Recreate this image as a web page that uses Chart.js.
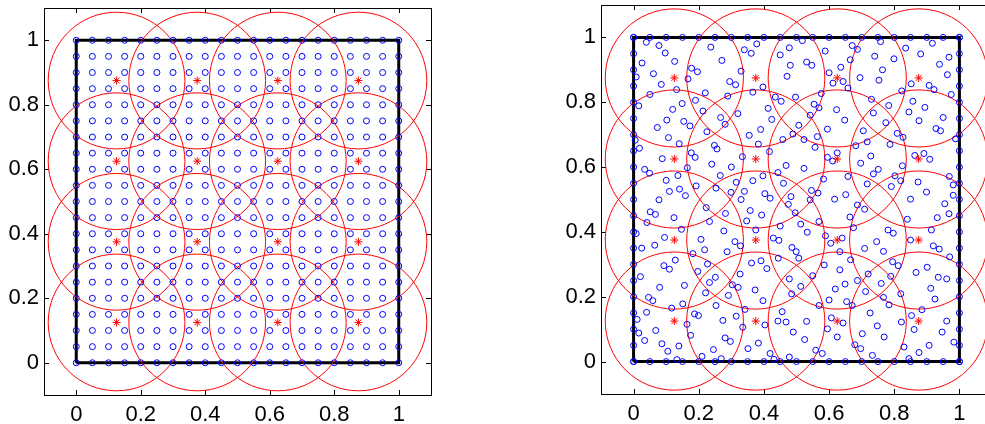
<!DOCTYPE html>
<html>
<head>
<meta charset="utf-8">
<script src="https://cdn.jsdelivr.net/npm/chart.js@4.4.1/dist/chart.umd.min.js"></script>
<style>
  html, body { margin: 0; padding: 0; background: #fff; overflow: hidden; }
  #wrap { position: relative; width: 985px; height: 424px; overflow: hidden; }
  .panel { position: absolute; top: 0; }
</style>
</head>
<body>
<div id="wrap">
  <canvas id="left" class="panel" width="440" height="424" style="left:0"></canvas>
  <canvas id="right" class="panel" width="443" height="424" style="left:557px"></canvas>
</div>
<script>
// axis ticks shown on both panels
const tickValues = [0, 0.2, 0.4, 0.6, 0.8, 1];

// node positions along one side of the unit square (both panels)
const gridValues = [0, 0.05, 0.1, 0.15, 0.2, 0.25, 0.3, 0.35, 0.4, 0.45, 0.5,
  0.55, 0.6, 0.65, 0.7, 0.75, 0.8, 0.85, 0.9, 0.95, 1];

// centres of the red covering circles (asterisks)
const centerValues = [0.125, 0.375, 0.625, 0.875];
const coverRadius = 0.212;

// right panel: scattered interior nodes
const scatteredNodes = [
  [0.039,0.985],[0.078,0.975],[0.097,0.952],[0.026,0.921],[0.126,0.926],[0.237,0.970],[0.340,0.962],[0.361,0.951],
  [0.378,0.980],[0.478,0.968],[0.450,0.946],[0.271,0.929],[0.178,0.905],[0.196,0.894],[0.330,0.896],[0.481,0.914],
  [0.471,0.880],[0.061,0.888],[0.008,0.878],[0.085,0.855],[0.132,0.839],[0.167,0.872],[0.295,0.864],[0.313,0.854],
  [0.366,0.831],[0.397,0.847],[0.050,0.824],[0.220,0.829],[0.289,0.819],[0.435,0.816],[0.453,0.803],[0.497,0.816],
  [0.016,0.789],[0.190,0.806],[0.149,0.796],[0.120,0.778],[0.213,0.773],[0.320,0.765],[0.413,0.781],[0.102,0.745],
  [0.154,0.741],[0.173,0.727],[0.267,0.753],[0.281,0.732],[0.424,0.747],[0.073,0.722],[0.225,0.709],[0.390,0.716],
  [0.355,0.698],[0.458,0.685],[0.489,0.702],[0.107,0.691],[0.140,0.672],[0.005,0.683],[0.018,0.658],[0.248,0.667],
  [0.256,0.656],[0.383,0.671],[0.088,0.626],[0.177,0.644],[0.189,0.630],[0.334,0.632],[0.417,0.648],[0.165,0.598],
  [0.240,0.609],[0.300,0.600],[0.468,0.605],[0.034,0.593],[0.049,0.581],[0.136,0.574],[0.100,0.559],[0.192,0.542],
  [0.266,0.574],[0.315,0.553],[0.366,0.558],[0.397,0.573],[0.443,0.583],[0.460,0.550],[0.110,0.525],[0.141,0.532],
  [0.159,0.512],[0.078,0.499],[0.253,0.535],[0.299,0.522],[0.340,0.525],[0.403,0.518],[0.419,0.504],[0.483,0.509],
  [0.518,0.990],[0.588,0.958],[0.531,0.924],[0.547,0.914],[0.600,0.891],[0.636,0.908],[0.612,0.859],[0.643,0.864],
  [0.658,0.844],[0.671,0.975],[0.687,0.963],[0.665,0.931],[0.758,0.987],[0.740,0.942],[0.764,0.900],[0.753,0.868],
  [0.695,0.876],[0.799,0.934],[0.835,0.967],[0.881,0.949],[0.917,0.982],[0.939,0.917],[0.968,0.939],[0.963,0.885],
  [0.852,0.857],[0.907,0.852],[0.922,0.839],[0.823,0.835],[0.975,0.824],[0.576,0.827],[0.554,0.794],[0.569,0.783],
  [0.623,0.777],[0.542,0.760],[0.648,0.745],[0.507,0.729],[0.595,0.717],[0.523,0.685],[0.564,0.694],[0.557,0.661],
  [0.730,0.809],[0.783,0.790],[0.736,0.767],[0.857,0.803],[0.894,0.784],[0.845,0.770],[0.876,0.743],[0.950,0.753],
  [0.774,0.737],[0.705,0.712],[0.717,0.678],[0.809,0.704],[0.827,0.692],[0.787,0.670],[0.682,0.666],[0.928,0.719],
  [0.942,0.712],[0.988,0.687],[0.625,0.644],[0.595,0.630],[0.611,0.619],[0.728,0.634],[0.697,0.612],[0.863,0.636],
  [0.891,0.642],[0.909,0.624],[0.825,0.604],[0.751,0.593],[0.736,0.579],[0.523,0.596],[0.583,0.563],[0.658,0.571],
  [0.717,0.548],[0.802,0.573],[0.820,0.558],[0.873,0.554],[0.791,0.540],[0.969,0.571],[0.981,0.545],[0.546,0.528],
  [0.566,0.520],[0.651,0.515],[0.617,0.501],[0.542,0.499],[0.899,0.523],[0.850,0.501],[0.981,0.513],
  [0.330,0.500],[0.475,0.485],[0.051,0.462],[0.067,0.454],[0.041,0.429],[0.124,0.444],[0.223,0.475],[0.233,0.432],
  [0.282,0.457],[0.358,0.466],[0.393,0.452],[0.347,0.434],[0.375,0.406],[0.450,0.418],[0.496,0.459],[0.277,0.403],
  [0.147,0.408],[0.095,0.383],[0.065,0.359],[0.025,0.350],[0.008,0.395],[0.207,0.377],[0.218,0.345],[0.182,0.333],
  [0.311,0.370],[0.328,0.357],[0.287,0.339],[0.429,0.381],[0.446,0.374],[0.486,0.352],[0.499,0.339],[0.444,0.319],
  [0.362,0.304],[0.391,0.311],[0.409,0.287],[0.128,0.313],[0.093,0.296],[0.110,0.285],[0.227,0.301],[0.197,0.278],
  [0.251,0.260],[0.233,0.244],[0.327,0.270],[0.021,0.262],[0.080,0.229],[0.156,0.235],[0.303,0.237],[0.321,0.229],
  [0.373,0.221],[0.478,0.255],[0.485,0.209],[0.291,0.204],[0.221,0.212],[0.046,0.198],[0.059,0.188],[0.151,0.178],
  [0.117,0.165],[0.253,0.173],[0.397,0.188],[0.342,0.161],[0.040,0.152],[0.011,0.130],[0.187,0.147],[0.199,0.142],
  [0.315,0.140],[0.274,0.127],[0.164,0.115],[0.456,0.154],[0.443,0.125],[0.403,0.113],[0.335,0.106],[0.468,0.122],
  [0.016,0.088],[0.034,0.065],[0.068,0.096],[0.175,0.081],[0.490,0.091],[0.281,0.073],[0.297,0.062],[0.383,0.057],
  [0.087,0.055],[0.105,0.032],[0.139,0.048],[0.245,0.037],[0.210,0.016],[0.351,0.040],[0.419,0.025],[0.431,0.007],
  [0.133,0.006],[0.269,0.009],[0.478,0.014],
  [0.687,0.483],[0.955,0.487],[0.709,0.470],[0.968,0.456],[0.932,0.444],[0.840,0.439],[0.569,0.432],[0.664,0.446],
  [0.675,0.413],[0.513,0.424],[0.533,0.399],[0.781,0.406],[0.797,0.396],[0.589,0.388],[0.605,0.365],[0.640,0.381],
  [0.746,0.370],[0.709,0.349],[0.767,0.340],[0.850,0.375],[0.914,0.406],[0.920,0.357],[0.938,0.347],[0.970,0.323],
  [0.507,0.319],[0.633,0.339],[0.666,0.314],[0.585,0.298],[0.633,0.283],[0.550,0.265],[0.795,0.308],[0.812,0.296],
  [0.867,0.275],[0.901,0.291],[0.935,0.260],[0.961,0.255],[0.513,0.232],[0.619,0.224],[0.649,0.239],[0.687,0.250],
  [0.720,0.270],[0.760,0.241],[0.789,0.263],[0.712,0.216],[0.767,0.198],[0.820,0.209],[0.912,0.226],[0.925,0.193],
  [0.600,0.190],[0.654,0.185],[0.671,0.173],[0.784,0.175],[0.569,0.173],[0.726,0.150],[0.853,0.142],[0.885,0.160],
  [0.607,0.135],[0.643,0.119],[0.595,0.101],[0.531,0.124],[0.748,0.110],[0.822,0.122],[0.861,0.099],[0.961,0.125],
  [0.947,0.091],[0.525,0.068],[0.625,0.076],[0.702,0.086],[0.769,0.076],[0.679,0.052],[0.697,0.040],[0.830,0.045],
  [0.907,0.050],[0.983,0.060],[0.559,0.035],[0.579,0.025],[0.733,0.019],[0.876,0.028],[0.845,0.009]
];

// the unit square outline
const squareX = [0, 1, 1, 0, 0];
const squareY = [0, 0, 1, 1, 0];

// ---- build the point tables ----
const uniformNodes = [];
gridValues.forEach((gx) => gridValues.forEach((gy) => uniformNodes.push({ x: gx, y: gy })));

const edgeNodes = [];
gridValues.forEach((v) => {
  edgeNodes.push({ x: v, y: 0 }, { x: v, y: 1 }, { x: 0, y: v }, { x: 1, y: v });
});
const randomNodes = edgeNodes.concat(scatteredNodes.map(([x, y]) => ({ x, y })));

const centers = [];
centerValues.forEach((cx) => centerValues.forEach((cy) => centers.push({ x: cx, y: cy })));

const square = squareX.map((x, i) => ({ x, y: squareY[i] }));

const FONT = { family: "'Liberation Sans', Arial, Helvetica, sans-serif", size: 22 };

// box around the axes plus inward ticks on all four sides
const framePlugin = {
  id: "frame",
  beforeDatasetsDraw(chart) {
    const { ctx, chartArea: a, scales } = chart;
    ctx.save();
    ctx.strokeStyle = "#000";
    ctx.lineWidth = 1;
    ctx.strokeRect(Math.round(a.left) + 0.5, Math.round(a.top) + 0.5,
      Math.round(a.right - a.left), Math.round(a.bottom - a.top));
    ctx.beginPath();
    tickValues.forEach((v) => {
      const px = Math.round(scales.x.getPixelForValue(v)) + 0.5;
      ctx.moveTo(px, a.bottom); ctx.lineTo(px, a.bottom - 5);
      ctx.moveTo(px, a.top); ctx.lineTo(px, a.top + 5);
      const py = Math.round(scales.y.getPixelForValue(v)) + 0.5;
      ctx.moveTo(a.left, py); ctx.lineTo(a.left + 5, py);
      ctx.moveTo(a.right, py); ctx.lineTo(a.right - 5, py);
    });
    ctx.stroke();
    ctx.restore();
  },
};

function axis(sizeKey, size, padding) {
  return {
    type: "linear",
    min: -0.1,
    max: 1.1,
    afterBuildTicks: (s) => { s.ticks = tickValues.map((v) => ({ value: v })); },
    afterFit: (s) => {
      s[sizeKey] = size;
      // keep the plot box where it is in the figure
      s.paddingTop = 0; s.paddingBottom = 0; s.paddingLeft = 0; s.paddingRight = 0;
    },
    grid: { display: false, drawTicks: false },
    border: { display: false },
    ticks: {
      font: FONT, color: "#000", padding, maxRotation: 0, autoSkip: false,
      callback: (v) => String(v),
    },
  };
}

function makePanel(id, nodes, layout) {
  return new Chart(document.getElementById(id), {
    type: "scatter",
    data: {
      datasets: [
        {
          label: "centres",
          data: centers,
          pointStyle: "star",
          pointRadius: 4,
          borderColor: "#ff0000",
          borderWidth: 1,
          order: 0,
        },
        {
          label: "nodes",
          data: nodes,
          pointStyle: "circle",
          pointRadius: 3,
          borderColor: "#0000ff",
          backgroundColor: "rgba(0,0,0,0)",
          borderWidth: 1,
          order: 1,
        },
        {
          label: "cover",
          data: centers,
          pointStyle: "circle",
          pointRadius: (c) => {
            const s = c.chart.scales.x;
            return s.getPixelForValue(coverRadius) - s.getPixelForValue(0);
          },
          borderColor: "#ff0000",
          backgroundColor: "rgba(0,0,0,0)",
          borderWidth: 1,
          order: 2,
        },
        {
          label: "square",
          data: square,
          showLine: true,
          pointRadius: 0,
          borderColor: "#000",
          borderWidth: 3,
          order: 3,
        },
      ],
    },
    options: {
      responsive: false,
      animation: false,
      events: [],
      layout: { padding: layout.padding },
      plugins: { legend: { display: false }, tooltip: { enabled: false } },
      scales: {
        x: axis("height", layout.xHeight, 7),
        y: axis("width", 44, 5),
      },
    },
    plugins: [framePlugin],
  });
}

makePanel("left", uniformNodes, { padding: { top: 8, right: 9, left: 0, bottom: 0 }, xHeight: 29 });
makePanel("right", randomNodes, { padding: { top: 3, right: 8, left: 0, bottom: 0 }, xHeight: 30 });
</script>
</body>
</html>
